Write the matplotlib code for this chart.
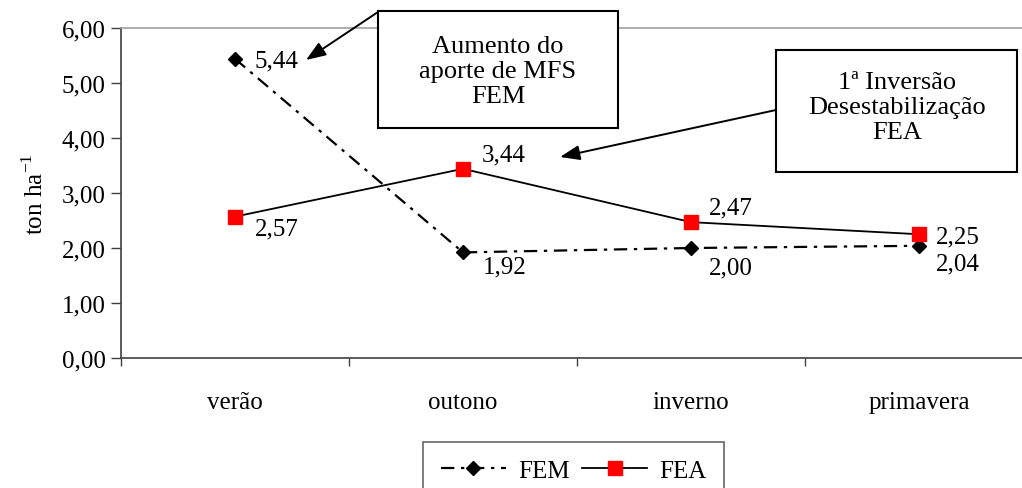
import matplotlib
matplotlib.use("Agg")
import matplotlib.pyplot as plt
from matplotlib.ticker import FuncFormatter, FixedLocator

categories = ["verão", "outono", "inverno", "primavera"]
fem = [5.44, 1.92, 2.00, 2.04]
fea = [2.57, 3.44, 2.47, 2.25]
fem_label_offsets = [(20, -2), (20, -14), (18, -19), (17, -18)]
fea_label_offsets = [(20, -12), (19, 14), (18, 15), (17, -2)]

plt.rcParams['font.family'] = ['Liberation Serif', 'DejaVu Serif']

W, H = 1022, 489
FS = 18
fig = plt.figure(figsize=(W / 100, H / 100), dpi=100)
ax = fig.add_axes([121 / W, 1 - 359 / H, 912 / W, 330 / H])

x = list(range(len(categories)))
l1, = ax.plot(x, fem, color='black', lw=1.6, linestyle=(0, (6, 3, 1.5, 3)),
              marker='D', markersize=7, markerfacecolor='black', markeredgecolor='black',
              label='FEM', zorder=3)
l2, = ax.plot(x, fea, color='black', lw=1.3, linestyle='-',
              marker='s', markersize=10, markerfacecolor='#ff0000', markeredgecolor='#ff0000',
              label='FEA', zorder=4)

for xi, v, off in zip(x, fem, fem_label_offsets):
    ax.annotate(f"{v:.2f}".replace('.', ','), (xi, v), xytext=off,
                textcoords='offset pixels', ha='left', va='center', fontsize=FS)
for xi, v, off in zip(x, fea, fea_label_offsets):
    ax.annotate(f"{v:.2f}".replace('.', ','), (xi, v), xytext=off,
                textcoords='offset pixels', ha='left', va='center', fontsize=FS)

ax.set_xlim(-0.5, len(categories) - 0.5)
ax.set_ylim(0, 6)
ax.set_yticks([0, 1, 2, 3, 4, 5, 6])
ax.yaxis.set_major_formatter(FuncFormatter(lambda v, p: f"{v:.2f}".replace('.', ',')))
ax.set_xticks(x)
ax.set_xticklabels(categories)
ax.xaxis.set_minor_locator(FixedLocator([i - 0.5 for i in range(len(categories) + 1)]))
ax.tick_params(axis='x', which='major', length=0, pad=24, labelsize=FS)
ax.tick_params(axis='x', which='minor', length=6, width=1, color='#404040', direction='out')
ax.tick_params(axis='y', length=7, width=1, color='#404040', direction='out', labelsize=FS, pad=4)

for s in ['left', 'bottom']:
    ax.spines[s].set_color('#404040')
    ax.spines[s].set_linewidth(1.2)
ax.spines['right'].set_visible(False)
ax.spines['top'].set_color('#a0a0a0')
ax.spines['top'].set_linewidth(1.2)

ax.set_ylabel("ton ha$^{\\mathregular{-1}}$", fontsize=FS, labelpad=10)

# annotation boxes
fig.patches.append(plt.Rectangle((378 / W, 1 - 129 / H), 240 / W, 117 / H,
                                 transform=fig.transFigure, facecolor='white',
                                 edgecolor='black', lw=1.5, zorder=5))
fig.text(498 / W, 1 - 72 / H, "Aumento do\naporte de MFS\nFEM", ha='center', va='center',
         fontsize=19, linespacing=1.2, zorder=6)
fig.patches.append(plt.Rectangle((776 / W, 1 - 173 / H), 241 / W, 122 / H,
                                 transform=fig.transFigure, facecolor='white',
                                 edgecolor='black', lw=1.5, zorder=5))
fig.text(897 / W, 1 - 108 / H, "1ª Inversão\nDesestabilização\nFEA", ha='center', va='center',
         fontsize=19, linespacing=1.2, zorder=6)

arrow = dict(arrowstyle='-|>,head_length=1.2,head_width=0.45', color='black', lw=1.4,
             shrinkA=0, shrinkB=0)
ax.annotate("", xy=(306 / W, 1 - 61 / H), xycoords='figure fraction',
            xytext=(378 / W, 1 - 13 / H), textcoords='figure fraction',
            arrowprops=arrow, annotation_clip=False)
ax.annotate("", xy=(560 / W, 1 - 158 / H), xycoords='figure fraction',
            xytext=(776 / W, 1 - 111 / H), textcoords='figure fraction',
            arrowprops=arrow, annotation_clip=False)

leg = ax.legend(handles=[l1, l2], loc='upper left',
                bbox_to_anchor=(423 / W, 1 - 443 / H), bbox_transform=fig.transFigure,
                ncol=2, fontsize=FS, frameon=True, fancybox=False, handlelength=2.6,
                handletextpad=0.5, columnspacing=0.5, borderpad=0.7, borderaxespad=0)
leg.get_frame().set_edgecolor('#404040')
leg.get_frame().set_linewidth(1.2)

fig.savefig("out.png", dpi=100)
